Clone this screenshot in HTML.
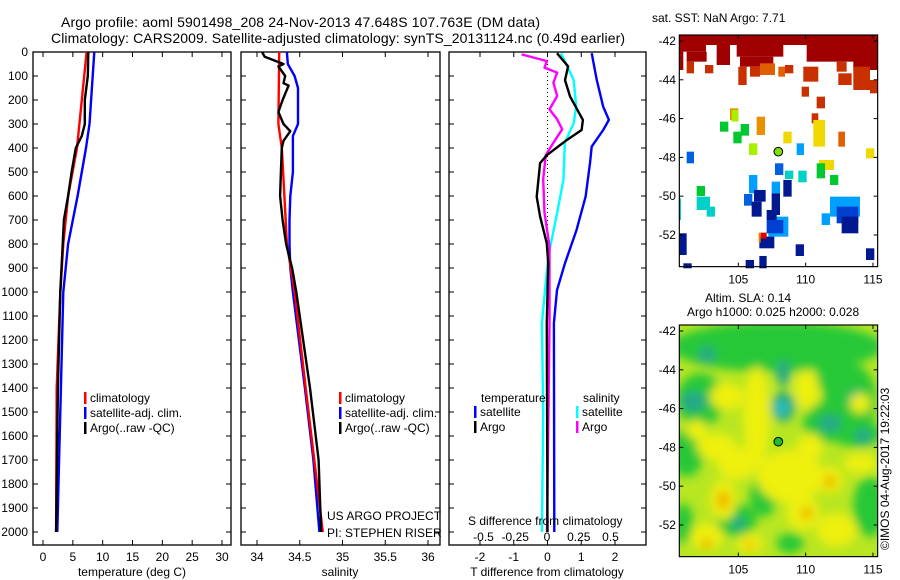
<!DOCTYPE html>
<html><head><meta charset="utf-8"><style>
body{margin:0;background:#fff;}
svg{display:block;font-family:"Liberation Sans",sans-serif;}
text{fill:#000;}
</style></head><body>
<svg id="fig" width="900" height="580" viewBox="0 0 900 580">
<defs><filter id="blur" x="-50%" y="-50%" width="200%" height="200%"><feGaussianBlur stdDeviation="14"/></filter>
<clipPath id="clipB"><rect x="88" y="105" width="595" height="695"/></clipPath></defs>
<text x="61" y="27" font-size="14" textLength="479">Argo profile: aoml 5901498_208 24-Nov-2013 47.648S 107.763E (DM data)</text>
<text x="51" y="43" font-size="14" textLength="574">Climatology: CARS2009. Satellite-adjusted climatology: synTS_20131124.nc (0.49d earlier)</text>
<g id="plots"></g>
<g id="maps">
<g transform="translate(650,0) scale(0.3333)" id="mapA"></g>
<g transform="translate(650,290) scale(0.3333)" id="mapB"></g>
</g>
<text x="652" y="22" font-size="12">sat. SST: NaN Argo: 7.71</text>
<text x="705" y="302" font-size="12">Altim. SLA: 0.14</text>
<text x="687" y="316" font-size="12">Argo h1000: 0.025 h2000: 0.028</text>
<text transform="translate(889,550) rotate(-90)" font-size="12">©IMOS 04-Aug-2017 19:22:03</text>
</svg>
<script>
const NS="http://www.w3.org/2000/svg";
function mk(p,tag,at,txt){const e=document.createElementNS(NS,tag);for(const k in at)e.setAttribute(k,at[k]);if(txt!==undefined)e.textContent=txt;p.appendChild(e);return e;}
// ---- data ----
const depthTicks=[0,100,200,300,400,500,600,700,800,900,1000,1100,1200,1300,1400,1500,1600,1700,1800,1900,2000];
const tempTicks=[0,5,10,15,20,25,30];
const salTicks=[34,34.5,35,35.5,36];
const tdTicks=[-2,-1,0,1,2];
const sdTicks=[-0.5,-0.25,0,0.25,0.5];
const tClimD=[0,400,600,800,1000,1400,2000];
const tClim=[7.3,5.7,4.2,3.4,2.9,2.3,2.2];
const tSatD=[0,300,400,600,800,1000,1400,2000];
const tSat=[8.6,7.8,7.2,5.8,4.2,3.4,3.0,2.4];
const tArgoD=[0,100,200,300,350,400,500,600,700,800,1000,1400,2000];
const tArgo=[7.6,7.5,7.0,7.0,6.5,5.5,4.8,4.2,3.5,3.3,2.9,2.5,2.2];
const sClimD=[0,300,400,600,800,1000,1400,1700,2000];
const sClim=[34.26,34.25,34.29,34.32,34.35,34.44,34.57,34.67,34.77];
const sSatD=[0,50,100,150,300,350,500,600,700,800,900,1000,1400,1700,2000];
const sSat=[34.35,34.36,34.44,34.48,34.48,34.42,34.42,34.39,34.38,34.38,34.39,34.42,34.56,34.66,34.73];
const sArgoD=[0,20,50,60,100,130,140,200,250,300,330,370,400,500,600,700,800,900,1000,1400,1700,2000];
const sArgo=[34.06,34.09,34.31,34.25,34.33,34.31,34.37,34.30,34.25,34.31,34.39,34.31,34.29,34.28,34.27,34.30,34.34,34.41,34.46,34.62,34.72,34.75];
const dTsD=[5,117,228,283,325,394,463,603,742,880,992,1130,2000];
const dTs=[1.31,1.46,1.65,1.82,1.65,1.31,1.26,1.13,0.86,0.52,0.28,0.19,0.2];
const dTaD=[5,60,117,186,283,325,367,430,463,603,686,797,880,1130,2000];
const dTa=[0.28,0.61,0.52,0.67,1.05,1.01,0.57,-0.02,-0.22,-0.32,-0.22,-0.02,0.02,-0.02,0.0];
const dSsD=[5,60,117,228,297,378,530,670,850,1130,1500,2000];
const dSs=[0.11,0.16,0.21,0.23,0.21,0.14,0.13,0.08,0.01,-0.04,-0.03,-0.04];
const dSaD=[10,38,65,86,128,183,239,281,322,378,430,530,670,810,1130,2000];
const dSa=[-0.2,0,-0.02,0.08,0.05,0.08,0.02,0.08,0.12,0.05,-0.01,-0.03,-0.02,0.02,0.02,0.0];
// ---- axes ----
const Y0=52,PB=545;
const yD=d=>Y0+d*0.24;
const xT=v=>43+v*5.967, xS=v=>257+(v-34)*85.5, xTd=v=>547.5+v*33.75, xSd=v=>547+v*127;
const g=document.getElementById('plots');
const panels=[[33,231,'temperature-panel'],[241,440,'salinity-panel'],[449,646,'difference-panel']];
panels.forEach(p=>{
 const r=mk(g,'rect',{x:p[0],y:Y0,width:p[1]-p[0],height:PB-Y0,fill:'none',stroke:'#000','stroke-width':1.3});
 
 
 depthTicks.forEach(d=>{mk(g,'line',{x1:p[0],x2:p[0]+5,y1:yD(d),y2:yD(d),stroke:'#000'});mk(g,'line',{x1:p[1],x2:p[1]-5,y1:yD(d),y2:yD(d),stroke:'#000'});});
});
depthTicks.forEach(d=>{const t=mk(g,'text',{x:28,y:yD(d)+4,'font-size':12,'text-anchor':'end'},String(d));
 
 });
function xticks(arr,fx,y,lab){arr.forEach(v=>{const x=fx(v);
 mk(g,'line',{x1:x,x2:x,y1:Y0,y2:Y0+5,stroke:'#000'});mk(g,'line',{x1:x,x2:x,y1:PB,y2:PB-5,stroke:'#000'});
 if(lab){const t=mk(g,'text',{x:x,y:y,'font-size':12,'text-anchor':'middle'},String(v));
 
 }});}
xticks(tempTicks,xT,561,true);xticks(salTicks,xS,561,true);xticks(tdTicks,xTd,561,true);
sdTicks.forEach(v=>{const t=mk(g,'text',{x:xSd(v),y:541,'font-size':12,'text-anchor':'middle'},String(v));
 
 });
mk(g,'line',{x1:547.5,x2:547.5,y1:Y0,y2:265,stroke:'#000','stroke-dasharray':'1,3'});
function line(D,V,fx,col,name){const pts=D.map((d,i)=>fx(V[i]).toFixed(1)+','+yD(d).toFixed(1)).join(' ');
 const e=mk(g,'polyline',{points:pts,fill:'none',stroke:col,'stroke-width':2.4,'stroke-linejoin':'round'});
 
 }
line(tSatD,tSat,xT,'#0000ff','temp-satellite-line');line(tClimD,tClim,xT,'#ff0000','temp-climatology-line');line(tArgoD,tArgo,xT,'#000','temp-argo-line');
line(sSatD,sSat,xS,'#0000ff','sal-satellite-line');line(sClimD,sClim,xS,'#ff0000','sal-climatology-line');line(sArgoD,sArgo,xS,'#000','sal-argo-line');
line(dTsD,dTs,xTd,'#0000ff','tdiff-satellite-line');line(dSsD,dSs,xSd,'#00ffff','sdiff-satellite-line');line(dSaD,dSa,xSd,'#ff00ff','sdiff-argo-line');line(dTaD,dTa,xTd,'#000','tdiff-argo-line');
function leg(x,y,col,txt){mk(g,'rect',{x:x,y:y-10,width:2.5,height:12,fill:col});const t=mk(g,'text',{x:x+6,y:y,'font-size':12},txt);
 
 }
[[82,'#ff0000','climatology'],[82,'#0000ff','satellite-adj. clim.'],[82,'#000','Argo(..raw -QC)']].forEach((l,i)=>{leg(84,402+i*15,l[1],l[2]);leg(339,402+i*15,l[1],l[2]);});
mk(g,'text',{x:481,y:402,'font-size':12},'temperature');mk(g,'text',{x:583,y:402,'font-size':12},'salinity');
leg(474,416,'#0000ff','satellite');leg(474,431,'#000','Argo');leg(576,416,'#00ffff','satellite');leg(576,431,'#ff00ff','Argo');
mk(g,'text',{x:327,y:520,'font-size':12},'US ARGO PROJECT');mk(g,'text',{x:327,y:537,'font-size':12},'PI: STEPHEN RISER');
mk(g,'text',{x:468,y:525,'font-size':12},'S difference from climatology');
[[132,'temperature (deg C)'],[340,'salinity'],[547,'T difference from climatology']].forEach(a=>{const t=mk(g,'text',{x:a[0],y:576,'font-size':12,'text-anchor':'middle'},a[1]);
 
 });
// ---- maps (zoom coords, 3x) ----
const A=document.getElementById('mapA'),B=document.getElementById('mapB');
const cells=[['#a00000',[[88,105,595,30],[88,135,80,20],[200,135,40,60],[260,125,140,45],[470,135,213,50],[110,155,60,30],[270,170,100,30],[88,150,12,60],[610,180,73,30]]],
['#c83000',[[110,185,22,35],[165,195,25,25],[265,200,25,55],[300,200,30,30],[405,195,25,25],[460,200,45,45],[560,185,30,30],[565,220,40,35],[610,200,50,70],[660,240,23,40],[455,260,22,30],[500,290,25,35],[485,340,20,30]]],
['#e06000',[[330,190,45,35],[385,200,20,30],[565,395,20,45]]],
['#e89000',[[240,325,25,35],[320,350,25,55]]],
['#f0d800',[[400,395,25,35],[490,360,35,80],[648,445,25,30],[507,480,45,30]]],
['#a8f000',[[297,430,25,35],[245,330,20,35]]],
['#00c830',[[210,365,25,30],[250,395,25,35],[272,372,25,35],[500,490,25,45],[540,525,25,30],[140,558,25,30]]],
['#0060e0',[[110,455,22,35],[375,490,25,35],[282,582,25,35]]],
['#00a0ff',[[440,430,22,35],[297,525,25,55],[365,545,25,35],[540,590,90,60],[515,640,25,35],[355,650,60,60]]],
['#00d0c8',[[140,590,40,40],[170,620,25,30],[445,512,25,35],[405,512,25,25],[88,595,5,65]]],
['#0040d0',[[560,620,65,50],[350,660,50,40]]],
['#001890',[[312,570,35,35],[305,605,30,45],[365,580,25,65],[400,540,25,50],[350,630,30,30],[575,650,50,50],[328,710,45,35],[88,700,22,65],[437,733,25,35],[648,745,25,35],[287,780,25,25],[328,768,22,37],[100,790,25,15]]],
['#e00000',[[332,698,18,18]]],['#e08000',[[326,698,6,30]]]];
cells.forEach(c=>c[1].forEach(r=>mk(A,'rect',{x:r[0],y:r[1],width:r[2],height:r[3],fill:c[0]})));
mk(B,'rect',{x:88,y:105,width:595,height:695,fill:'#b8e622'});
const bg=mk(B,'g',{'clip-path':'url(#clipB)'});const bl=mk(bg,'g',{filter:'url(#blur)'});
const blobs=[['#28c838',[[380,170,320,75],[150,330,70,80],[600,330,80,110],[520,400,60,60],[110,490,50,70],[340,620,40,60],[260,690,60,50],[660,650,50,90],[560,260,60,60],[620,430,80,40],[100,700,30,60],[420,760,40,30]]],
['#28a888',[[170,195,25,25],[400,250,20,40],[400,350,35,45],[540,400,35,25],[640,440,25,25],[130,335,40,30],[620,330,25,30],[265,700,20,20]]],
['#30c8d8',[[395,355,15,20]]],
['#eef010',[[230,320,50,40],[320,380,40,150],[470,300,35,60],[630,340,30,30],[140,420,30,30],[200,470,60,40],[420,560,100,80],[540,570,40,40],[460,670,50,50],[220,630,40,60],[170,740,50,40],[300,760,40,30],[630,520,50,30],[560,720,60,50],[260,520,60,50],[480,470,40,40]]],
['#f0b000',[[220,630,18,28],[540,575,18,18],[470,670,18,18],[170,760,18,14],[300,765,14,12]]]];
blobs.forEach(b=>b[1].forEach(e=>mk(bl,'ellipse',{cx:e[0],cy:e[1],rx:e[2],ry:e[3],fill:b[0]})));
[[A,'#80e000'],[B,'#20c020']].forEach(m=>{
 mk(m[0],'rect',{x:88,y:105,width:595,height:695,fill:'none',stroke:'#000','stroke-width':3.5});
 mk(m[0],'circle',{cx:385,cy:455,r:13,fill:m[1],stroke:'#000','stroke-width':3});
 [-42,-44,-46,-48,-50,-52].forEach((la,i)=>{const y=123+i*116.4;
  mk(m[0],'line',{x1:88,x2:100,y1:y,y2:y,stroke:'#000','stroke-width':3});mk(m[0],'line',{x1:683,x2:671,y1:y,y2:y,stroke:'#000','stroke-width':3});
  mk(m[0],'text',{x:78,y:y+12,'font-size':36,'text-anchor':'end'},String(la));});
 [105,110,115].forEach((lo,i)=>{const x=265+i*202;
  mk(m[0],'line',{x1:x,x2:x,y1:800,y2:788,stroke:'#000','stroke-width':3});mk(m[0],'line',{x1:x,x2:x,y1:105,y2:117,stroke:'#000','stroke-width':3});
  mk(m[0],'text',{x:x,y:850,'font-size':36,'text-anchor':'middle'},String(lo));});
});
</script>
</body></html>
